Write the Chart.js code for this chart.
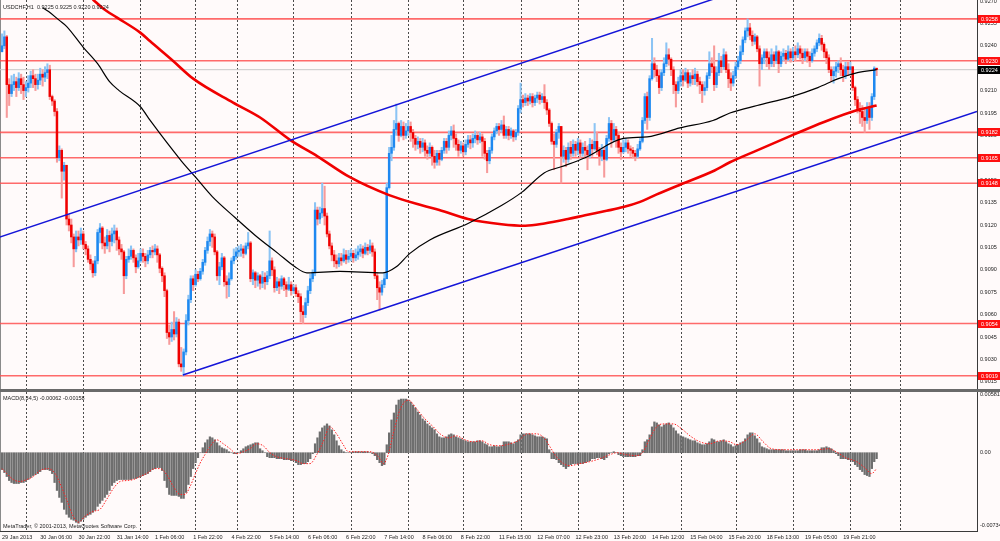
<!DOCTYPE html>
<html>
<head>
<meta charset="utf-8">
<title>USDCHF,H1</title>
<script src="https://cdn.jsdelivr.net/npm/chart.js@4.4.1/dist/chart.umd.min.js"></script>
<style>
  html, body { margin: 0; padding: 0; background: #fffafa; }
  #wrap { position: relative; width: 1000px; height: 541px; overflow: hidden; background: #fffafa; }
  #priceBox { position: absolute; left: 0; top: 0; width: 1000px; height: 390px; }
  #split { position: absolute; left: 0; top: 389px; width: 1000px; height: 3px; background: #6a6a6a; }
  #macdBox { position: absolute; left: 0; top: 392px; width: 1000px; height: 149px; }
</style>
</head>
<body>
<div id="wrap">
  <div id="priceBox"><canvas id="priceChart"></canvas></div>
  <div id="split"></div>
  <div id="macdBox"><canvas id="macdChart"></canvas></div>
</div>
<script>
// prices are kept in pips above 0.9000, one entry per H1 bar (bar 0 = 29 Jan 2013)
const firstOpenPip = 236;

const closePips = [
  240, 246, 214, 208, 214, 216, 212, 218, 214, 210,
  212, 215, 220, 218, 214, 217, 221, 219, 222, 224,
  206, 203, 196, 165, 170, 156, 160, 124, 120, 112,
  104, 112, 110, 114, 107, 104, 97, 94, 88, 96,
  115, 118, 108, 106, 113, 109, 114, 116, 110, 104,
  102, 86, 97, 99, 103, 98, 92, 96, 101, 99,
  96, 100, 103, 102, 104, 100, 91, 86, 76, 48,
  45, 50, 47, 55, 27, 25, 35, 56, 70, 84,
  80, 87, 84, 89, 95, 103, 109, 114, 112, 102,
  86, 92, 98, 82, 80, 84, 96, 99, 102, 103,
  104, 101, 106, 108, 84, 88, 83, 86, 81, 85,
  82, 86, 96, 90, 78, 82, 79, 84, 80, 77,
  80, 76, 78, 74, 72, 62, 60, 68, 76, 84,
  88, 130, 124, 128, 131, 126, 114, 106, 100, 96,
  94, 98, 96, 100, 97, 99, 101, 98, 100, 102,
  104, 101, 105, 103, 106, 102, 86, 78, 75, 80,
  84, 145, 168, 172, 184, 188, 180, 186, 180, 183,
  186, 182, 178, 174, 176, 172, 175, 170, 168, 172,
  166, 162, 168, 164, 170, 176, 172, 180, 183, 178,
  174, 170, 173, 169, 174, 177, 175, 178, 180, 177,
  179, 176, 168, 163, 170, 179, 183, 186, 184, 187,
  180, 184, 180, 183, 179, 182, 198, 204, 202, 205,
  203, 206, 202, 205, 207, 204, 206, 202, 197, 188,
  176, 174, 182, 186, 166, 170, 164, 172, 168, 174,
  170, 175, 168, 172, 170, 167, 174, 171, 176, 170,
  166, 170, 164, 178, 188, 177, 184, 180, 172, 169,
  172, 175, 171, 170, 168, 166, 171, 176, 190, 206,
  192, 218, 228, 224, 220, 212, 222, 228, 234, 231,
  224, 214, 210, 216, 220, 217, 222, 215, 220, 218,
  221, 216, 214, 210, 212, 220, 228, 226, 214, 222,
  230, 226, 234, 224, 218, 215, 220, 226, 230, 236,
  244, 250, 252, 247, 243, 246, 238, 228, 232, 236,
  232, 228, 234, 230, 236, 228, 233, 235, 231, 236,
  232, 236, 234, 238, 235, 232, 236, 233, 230, 235,
  238, 242, 245, 241, 236, 232, 224, 220, 223, 226,
  228, 224, 220, 226, 224, 226, 212, 204, 198, 196,
  192, 190, 198, 192, 206, 225, 224
];

const highPips = [
  248, 250, 247, 218, 220, 221, 219, 222, 221, 219,
  216, 220, 223, 224, 221, 221, 225, 224, 226, 228,
  227, 207, 204, 198, 173, 171, 162, 160, 127, 124,
  114, 116, 116, 118, 116, 109, 106, 100, 96, 99,
  117, 121, 119, 112, 117, 116, 118, 120, 118, 112,
  107, 103, 99, 104, 106, 104, 100, 101, 104, 104,
  101, 103, 105, 106, 107, 106, 101, 92, 88, 77,
  53, 55, 62, 58, 57, 38, 37, 60, 73, 86,
  86, 90, 89, 91, 97, 105, 112, 117, 116, 114,
  103, 95, 101, 99, 86, 88, 98, 104, 105, 106,
  107, 106, 108, 115, 109, 90, 89, 88, 87, 89,
  88, 89, 116, 98, 92, 85, 84, 86, 85, 82,
  85, 82, 80, 80, 76, 74, 66, 71, 79, 87,
  90, 135, 132, 132, 148, 146, 128, 116, 108, 103,
  100, 101, 101, 104, 103, 103, 104, 103, 104, 106,
  107, 106, 108, 107, 110, 108, 104, 88, 82, 83,
  88, 148, 172, 180, 190, 201, 189, 190, 189, 188,
  190, 189, 184, 180, 179, 178, 178, 177, 173, 175,
  173, 170, 170, 170, 172, 178, 178, 183, 186, 187,
  181, 177, 176, 175, 177, 180, 180, 181, 183, 182,
  182, 181, 178, 170, 172, 181, 185, 188, 188, 190,
  193, 186, 186, 185, 184, 184, 200, 215, 207, 208,
  207, 208, 208, 207, 209, 209, 208, 214, 204, 198,
  189, 181, 184, 188, 186, 173, 172, 175, 176, 177,
  176, 178, 177, 175, 176, 173, 178, 177, 188, 182,
  172, 174, 172, 180, 192, 190, 188, 186, 182, 175,
  177, 178, 177, 173, 172, 170, 174, 178, 192, 208,
  209, 220, 245, 232, 227, 224, 224, 232, 242, 238,
  232, 226, 216, 219, 224, 224, 225, 224, 222, 224,
  225, 223, 219, 216, 216, 222, 236, 232, 240, 226,
  235, 233, 238, 236, 228, 222, 223, 229, 233, 240,
  246, 252, 258, 255, 250, 248, 247, 240, 234, 238,
  238, 236, 238, 236, 240, 237, 236, 238, 237, 240,
  238, 239, 240, 242, 240, 238, 238, 238, 236, 238,
  240, 244, 248, 247, 242, 238, 234, 226, 226, 229,
  230, 232, 227, 229, 229, 229, 226, 213, 206, 202,
  200, 198, 202, 202, 208, 226, 225
];

const lowPips = [
  236, 238, 192, 200, 206, 210, 206, 210, 208, 204,
  206, 209, 212, 212, 210, 211, 214, 213, 216, 218,
  204, 200, 193, 162, 163, 138, 150, 120, 116, 108,
  92, 102, 106, 107, 104, 100, 95, 90, 85, 86,
  94, 108, 104, 101, 104, 102, 106, 108, 103, 100,
  97, 74, 84, 95, 97, 95, 88, 91, 95, 95,
  92, 94, 98, 98, 100, 95, 88, 82, 72, 44,
  40, 42, 43, 45, 25, 22, 19, 33, 53, 68,
  76, 79, 82, 83, 87, 93, 101, 106, 105, 100,
  83, 80, 90, 79, 71, 72, 83, 94, 97, 99,
  99, 98, 100, 104, 82, 80, 78, 79, 77, 78,
  77, 80, 84, 86, 75, 76, 74, 77, 76, 72,
  76, 73, 74, 72, 68, 55, 54, 58, 66, 74,
  82, 86, 120, 121, 125, 120, 112, 104, 96, 92,
  91, 92, 93, 95, 94, 95, 96, 95, 96, 97,
  99, 98, 100, 100, 101, 99, 84, 70, 63, 73,
  78, 84, 144, 163, 170, 180, 176, 179, 177, 178,
  180, 176, 172, 170, 171, 168, 169, 166, 164, 166,
  160, 158, 160, 160, 163, 168, 168, 170, 177, 172,
  170, 166, 168, 166, 167, 172, 171, 172, 175, 174,
  175, 166, 164, 155, 161, 168, 177, 181, 180, 182,
  178, 178, 177, 178, 176, 177, 180, 195, 199, 200,
  200, 201, 199, 200, 202, 201, 202, 198, 194, 186,
  174, 157, 172, 178, 148, 162, 159, 162, 164, 166,
  166, 167, 165, 166, 165, 157, 165, 166, 170, 167,
  160, 163, 152, 163, 176, 172, 176, 172, 168, 164,
  168, 169, 168, 166, 165, 163, 165, 170, 175, 188,
  184, 190, 217, 219, 216, 208, 210, 220, 226, 227,
  220, 208, 199, 208, 213, 213, 216, 212, 213, 214,
  214, 213, 208, 202, 207, 210, 218, 222, 210, 212,
  220, 222, 224, 222, 212, 210, 213, 218, 224, 228,
  234, 242, 246, 244, 240, 241, 236, 213, 224, 228,
  226, 224, 226, 226, 228, 222, 226, 230, 228, 230,
  229, 230, 230, 232, 231, 228, 230, 229, 226, 229,
  233, 236, 240, 237, 232, 228, 222, 216, 215, 219,
  222, 220, 216, 218, 220, 221, 210, 200, 195, 188,
  186, 182, 188, 184, 190, 204, 220
];

// moving averages at some bars
const blackMaBars = [17, 19.5, 24, 27, 34, 40, 45, 49, 58, 62, 75, 81, 88, 97.5, 106, 115.5, 122.6, 127.6, 141.4, 159.4, 165, 170.7, 179, 195, 209, 217.6, 227, 234, 244, 260, 270, 283.7, 297.5, 304.6, 316, 330.5, 341.4, 350, 358, 366];
const blackMaPips = [265.5, 263, 257, 253, 239, 228, 216, 210, 199, 190, 163, 152, 139, 125, 113, 101, 92, 88, 89, 88, 92, 101, 110, 121, 133, 142, 155, 159, 165, 178, 179, 185, 190, 195, 200, 206, 212, 218, 222, 224];
const redMaBars = [38, 42.3, 48, 57.7, 62, 71.5, 80, 96.7, 108, 120.5, 132, 145.6, 162, 176, 183, 195, 209, 219, 227, 236.8, 244, 253, 260, 267, 274, 283.7, 297.5, 304.6, 316, 330.5, 344, 358, 366];
const redMaPips = [271, 265, 259, 249, 243, 230, 218, 202, 192, 177, 166, 152, 140, 133, 130, 124, 120.5, 119.5, 121, 124, 126.5, 129.5, 132, 135.5, 140.5, 147, 156, 162, 170, 180, 189, 197, 200];

// channel trend lines: [bar, pips]
const upperChannel = [[-1, 111.9], [300, 272.5]];
const lowerChannel = [[75.7, 19.5], [408, 196.1]];

// horizontal levels and current bid
const priceLevels = [0.9258, 0.9230, 0.9182, 0.9165, 0.9148, 0.9054, 0.9019];
const bidPrice = 0.9224;
const priceTicks = [0.9015, 0.9030, 0.9045, 0.9060, 0.9075, 0.9090, 0.9105, 0.9120, 0.9135, 0.9150, 0.9165, 0.9180, 0.9195, 0.9210, 0.9225, 0.9240, 0.9255, 0.9270];

// MACD(8,34,5), in units of 0.0001
const macdHist = [
  -17, -20, -24, -28, -30, -31, -31, -31, -30, -30,
  -29, -27, -25, -23, -22, -21, -19, -17, -17, -17,
  -18, -21, -30, -38, -45, -50, -57, -62, -65, -67,
  -68, -70, -71, -69, -67, -65, -63, -62, -60, -58,
  -54, -51, -48, -45, -42, -38, -33, -30, -28, -27,
  -27, -27, -27, -27, -27, -26, -26, -25, -24, -23,
  -22, -21, -19, -17, -16, -15, -15, -18, -28, -35,
  -42, -43, -43, -43, -44, -46, -46, -40, -32, -24,
  -16, -10, -5, 0, 5, 10, 13, 16, 15, 13,
  10, 7, 5, 4, 3, 1, 0, -1, -1, 0,
  2, 4, 6, 7, 8, 9, 10, 10, 4, 2,
  0, -4, -5, -5, -5, -6, -6, -6, -7, -7,
  -7, -8, -8, -10, -12, -12, -11, -11, -9, -6,
  -1, 9, 15, 21, 25, 27, 29, 27, 23, 18,
  12, 7, 3, 1, 0, 0, 0, 1, 1, 1,
  1, 1, 1, 1, 0, -1, -3, -7, -10, -13,
  -12, 8, 20, 33, 40, 48, 53, 54, 54, 54,
  53, 51, 48, 45, 41, 38, 34, 32, 29, 27,
  25, 23, 19, 16, 15, 15, 16, 18, 19, 18,
  16, 15, 14, 13, 12, 11, 11, 11, 11, 12,
  12, 11, 9, 8, 6, 6, 7, 6, 6, 7,
  11, 11, 11, 10, 9, 11, 13, 18, 19, 19,
  19, 19, 18, 17, 16, 16, 16, 15, 14, 3,
  -6, -6, -7, -10, -12, -14, -16, -14, -12, -11,
  -11, -11, -11, -11, -10, -9, -8, -6, -6, -5,
  -5, -6, -7, -5, -1, 0, 1, 0, -2, -3,
  -4, -4, -4, -4, -4, -4, -3, -3, 3, 11,
  13, 18, 26, 31, 30, 28, 26, 28, 29, 30,
  28, 25, 22, 19, 17, 16, 15, 14, 13, 12,
  12, 10, 9, 8, 8, 9, 11, 14, 13, 11,
  11, 12, 13, 11, 9, 8, 6, 7, 8, 10,
  11, 14, 18, 20, 20, 17, 14, 10, 6, 5,
  4, 3, 3, 3, 3, 3, 3, 3, 2, 2,
  2, 2, 2, 2, 3, 3, 3, 2, 2, 2,
  2, 2, 3, 5, 5, 6, 5, 4, 2, -1,
  -3, -6, -6, -6, -7, -7, -9, -12, -14, -17,
  -19, -22, -23, -24, -16, -9, -6
];
const signalBars = [0, 2, 4.7, 7.5, 10.3, 13.1, 15.9, 19.4, 22.2, 24.3, 27, 29.8, 32, 34.7, 38.2, 41, 43.8, 46.6, 49.4, 52.2, 55, 57.7, 60.5, 64, 66.1, 68.9, 71.7, 74.5, 76.6, 78.7, 80.8, 82.8, 84.9, 87, 89.8, 92.6, 95.4, 98.2, 101, 103.8, 106.6, 109.3, 112.1, 114.9, 119.1, 123.3, 126, 128.9, 131.7, 134.4, 137.2, 140, 142.8, 145, 149.8, 154, 157.5, 159.6, 161.6, 163.7, 166.5, 170, 173.5, 177, 180.5, 183.3, 186.8, 190.2, 193.7, 197.2, 200.7, 204.2, 208.4, 212.6, 216.7, 219.5, 223.7, 227.2, 229.3, 232, 235, 237.6, 241.8, 246, 250.2, 254.4, 257.2, 261.4, 265.6, 268.3, 271, 273.9, 276.7, 280.9, 284.4, 287.9, 292, 296.2, 300.4, 304.6, 307.4, 311.6, 315, 318.5, 322, 327, 334, 341, 346, 349, 353, 357.6, 361, 363.9, 366];
const signalVals = [-16, -21, -27, -29, -27, -24, -18, -16, -21, -31, -47, -64, -70, -64, -59, -57, -47, -36, -29, -28, -27, -24, -21, -16, -16, -22, -34, -42, -42, -34, -22, -11, -2, 6, 13, 9, 4, -1, 1, 4, 9, 7, 0, -4, -6, -8, -11, -11, -2, 11, 26, 19, 8, 1, 1, 1, -4, -11, -2, 19, 43, 53, 44, 34, 26, 19, 15, 17, 13, 11, 12, 8, 7, 9, 13, 19, 19, 14, 6, -4, -11, -13, -11, -9, -6, -2, 0, -2, -3, 1, 14, 26, 29, 29, 24, 17, 11, 9, 12, 11, 8, 13, 19, 11, 4, 3, 3, 3, 4, 1, -5, -9, -15, -21, -16];
const macdTicks = [0.00581, 0, -0.00734];

// time axis
const labelBars = [0, 16, 32, 48, 64, 80, 96, 112, 128, 144, 160, 176, 192, 208, 224, 240, 256, 272, 288, 304, 320, 336, 352];
const timeLabels = ['29 Jan 2013', '30 Jan 06:00', '30 Jan 22:00', '31 Jan 14:00', '1 Feb 06:00', '1 Feb 22:00', '4 Feb 22:00', '5 Feb 14:00', '6 Feb 06:00', '6 Feb 22:00', '7 Feb 14:00', '8 Feb 06:00', '8 Feb 22:00', '11 Feb 15:00', '12 Feb 07:00', '12 Feb 23:00', '13 Feb 20:00', '14 Feb 12:00', '15 Feb 04:00', '15 Feb 20:00', '18 Feb 13:00', '19 Feb 05:00', '19 Feb 21:00'];
const gridBars = [10, 34, 57.7, 80.8, 98.3, 121.8, 146, 170, 193, 217.2, 241, 259.8, 284, 307, 331, 354.8, 375.7];

const headerText = 'USDCHF,H1  0.9225 0.9225 0.9220 0.9224';
const macdText = 'MACD(8,34,5) -0.00062 -0.00158';
const copyText = 'MetaTrader, \u00a9 2001-2013, MetaQuotes Software Corp.';

// ---------------------------------------------------------------
const BASE = 0.9, PIP = 0.0001;
const X_MIN = -0.84, X_MAX = 408;
const FONT = '"Liberation Sans", Arial, sans-serif';
const toPrice = p => BASE + p * PIP;

Chart.defaults.font.family = FONT;
Chart.defaults.font.size = 5.5;
Chart.defaults.color = '#222';

const opens = closePips.map((c, i) => i === 0 ? firstOpenPip : closePips[i - 1]);
const isUp = i => closePips[i] >= opens[i];

const wickData = closePips.map((c, i) => ({
    x: i,
    y: [toPrice(Math.min(lowPips[i], opens[i], c)), toPrice(Math.max(highPips[i], opens[i], c))]
}));
const bodyData = closePips.map((c, i) => ({ x: i, y: [toPrice(opens[i]), toPrice(c)] }));
const toPoints = (bars, pips) => bars.map((b, i) => ({ x: b, y: toPrice(pips[i]) }));

// dashed vertical separators, drawn through the x scale
const verticalGrid = {
    id: 'verticalGrid',
    beforeDatasetsDraw(chart) {
        const { ctx, chartArea } = chart;
        const xs = chart.scales.x;
        ctx.save();
        ctx.strokeStyle = '#4a4a4a';
        ctx.lineWidth = 1;
        ctx.setLineDash([2, 2]);
        gridBars.forEach(b => {
            const px = Math.round(xs.getPixelForValue(b)) + 0.5;
            ctx.beginPath();
            ctx.moveTo(px, chartArea.top);
            ctx.lineTo(px, chartArea.bottom);
            ctx.stroke();
        });
        ctx.setLineDash([]);
        ctx.strokeStyle = '#8a8a8a';
        ctx.beginPath();
        ctx.moveTo(chartArea.left + 0.5, chartArea.top);
        ctx.lineTo(chartArea.left + 0.5, chartArea.bottom);
        ctx.stroke();
        ctx.restore();
    }
};

const priceTags = {
    id: 'priceTags',
    afterDraw(chart) {
        const { ctx, chartArea } = chart;
        const ys = chart.scales.y;
        ctx.save();
        ctx.font = '5.5px ' + FONT;
        ctx.textBaseline = 'middle';
        const tag = (value, fill) => {
            const py = Math.round(ys.getPixelForValue(value));
            ctx.fillStyle = fill;
            ctx.fillRect(chartArea.right + 1, py - 4, chart.width - chartArea.right - 1, 8);
            ctx.fillStyle = '#ffffff';
            ctx.fillText(value.toFixed(4), chartArea.right + 4, py + 0.5);
        };
        priceLevels.forEach(v => tag(v, '#ff1010'));
        tag(bidPrice, '#000000');
        ctx.fillStyle = '#222';
        ctx.textBaseline = 'alphabetic';
        ctx.fillText(headerText, 3, 9);
        ctx.restore();
    }
};

const macdTexts = {
    id: 'macdTexts',
    afterDraw(chart) {
        const { ctx } = chart;
        ctx.save();
        ctx.font = '5.5px ' + FONT;
        ctx.fillStyle = '#222';
        ctx.fillText(macdText, 3, 8);
        ctx.fillText(copyText, 3, 136);
        ctx.restore();
    }
};

const levelSets = priceLevels.map(v => ({
    type: 'line',
    data: [{ x: X_MIN, y: v }, { x: X_MAX, y: v }],
    borderColor: 'rgba(255, 80, 80, 0.85)',
    borderWidth: 1.6,
    pointRadius: 0
}));

new Chart(document.getElementById('priceChart'), {
    type: 'bar',
    data: {
        datasets: [
            {
                type: 'line',
                data: upperChannel.map(p => ({ x: p[0], y: toPrice(p[1]) })),
                borderColor: '#1414d8', borderWidth: 1.5, pointRadius: 0
            },
            {
                type: 'line',
                data: lowerChannel.map(p => ({ x: p[0], y: toPrice(p[1]) })),
                borderColor: '#1414d8', borderWidth: 1.5, pointRadius: 0
            },
            {
                type: 'line',
                data: toPoints(blackMaBars, blackMaPips),
                borderColor: '#000000', borderWidth: 1.2, pointRadius: 0,
                cubicInterpolationMode: 'monotone'
            },
            {
                type: 'line',
                data: toPoints(redMaBars, redMaPips),
                borderColor: '#f00000', borderWidth: 2.6, pointRadius: 0,
                cubicInterpolationMode: 'monotone'
            },
            {
                data: bodyData,
                grouped: false,
                barThickness: 1.8,
                minBarLength: 1,
                backgroundColor: ctx => isUp(ctx.dataIndex) ? '#1e88f0' : '#f00000'
            },
            {
                data: wickData,
                grouped: false,
                barThickness: 1.4,
                backgroundColor: ctx => isUp(ctx.dataIndex) ? '#8cc4f4' : '#f79a9a'
            },
            {
                type: 'line',
                data: [{ x: X_MIN, y: bidPrice }, { x: X_MAX, y: bidPrice }],
                borderColor: '#c8c8c8', borderWidth: 1, pointRadius: 0
            },
            ...levelSets
        ]
    },
    options: {
        responsive: true,
        maintainAspectRatio: false,
        animation: false,
        events: [],
        layout: { padding: 0 },
        plugins: { legend: { display: false }, tooltip: { enabled: false } },
        scales: {
            x: { type: 'linear', min: X_MIN, max: X_MAX, offset: false, display: false },
            y: {
                position: 'right',
                min: toPrice(9.5),
                max: toPrice(270.67),
                afterBuildTicks: s => { s.ticks = priceTicks.map(v => ({ value: v })); },
                afterFit: s => { s.width = 23; s.paddingTop = 0; s.paddingBottom = 0; },
                grid: { display: false, drawTicks: false },
                border: { display: true, color: '#3a3a3a', width: 1 },
                ticks: { padding: 3, color: '#222', callback: v => v.toFixed(4) }
            }
        }
    },
    plugins: [verticalGrid, priceTags]
});

new Chart(document.getElementById('macdChart'), {
    type: 'bar',
    data: {
        datasets: [
            {
                type: 'line',
                data: signalBars.map((b, i) => ({ x: b, y: signalVals[i] * PIP })),
                borderColor: '#ff2020', borderWidth: 1, borderDash: [1.5, 1.5],
                pointRadius: 0, cubicInterpolationMode: 'monotone'
            },
            {
                data: macdHist.map((v, i) => ({ x: i, y: v * PIP })),
                barThickness: 1.6,
                backgroundColor: '#6e6e6e'
            }
        ]
    },
    options: {
        responsive: true,
        maintainAspectRatio: false,
        animation: false,
        events: [],
        layout: { padding: 0 },
        plugins: { legend: { display: false }, tooltip: { enabled: false } },
        scales: {
            x: {
                type: 'linear', min: X_MIN, max: X_MAX, offset: false,
                afterBuildTicks: s => { s.ticks = labelBars.map(v => ({ value: v })); },
                afterFit: s => { s.height = 10; s.paddingLeft = 0; s.paddingRight = 0; },
                grid: { display: false, drawTicks: false },
                border: { display: true, color: '#3a3a3a', width: 1 },
                ticks: {
                    autoSkip: false, maxRotation: 0, align: 'start', padding: 3, color: '#222',
                    callback: (v, i) => timeLabels[i]
                }
            },
            y: {
                position: 'right',
                min: -0.00788,
                max: 0.00611,
                afterBuildTicks: s => { s.ticks = macdTicks.map(v => ({ value: v })); },
                afterFit: s => { s.width = 23; s.paddingTop = 0; s.paddingBottom = 0; },
                grid: { display: false, drawTicks: false },
                border: { display: true, color: '#3a3a3a', width: 1 },
                ticks: { padding: 3, color: '#222', callback: v => v === 0 ? '0.00' : v.toFixed(5) }
            }
        }
    },
    plugins: [verticalGrid, macdTexts]
});
</script>
</body>
</html>
